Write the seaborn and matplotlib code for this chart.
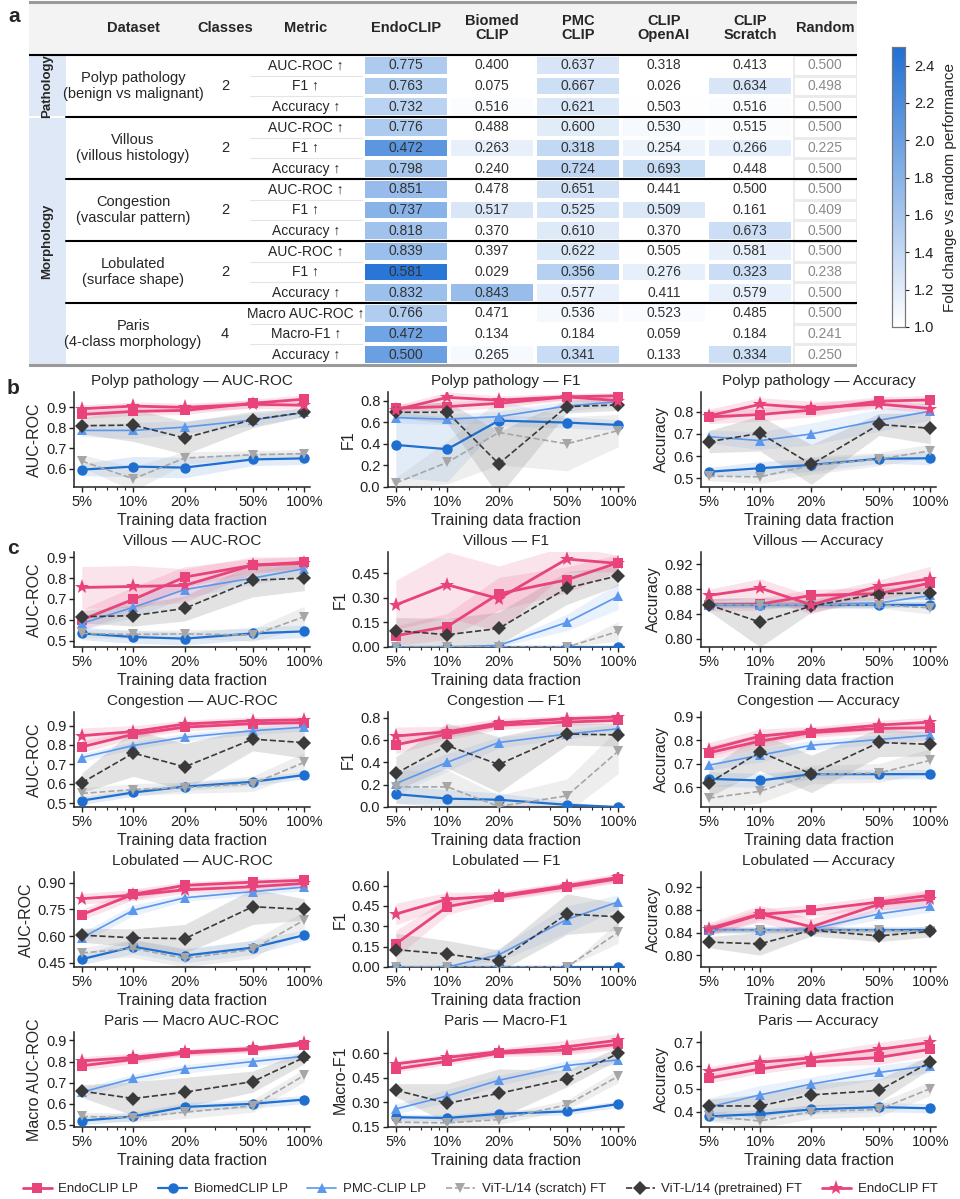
import matplotlib
matplotlib.use("Agg")
import matplotlib.pyplot as plt
from matplotlib.colors import LinearSegmentedColormap
from matplotlib.patches import Rectangle
from matplotlib.lines import Line2D
from matplotlib.ticker import NullFormatter, FormatStrFormatter
import numpy as np
import pandas as pd
import seaborn as sns

W, H = 960, 1199

# ---------------- panel a: table ----------------
models = ["EndoCLIP", "Biomed\nCLIP", "PMC\nCLIP", "CLIP\nOpenAI", "CLIP\nScratch"]
datasets = ["Polyp pathology\n(benign vs malignant)", "Villous\n(villous histology)",
            "Congestion\n(vascular pattern)", "Lobulated\n(surface shape)",
            "Paris\n(4-class morphology)"]
n_classes = [2, 2, 2, 2, 4]
metrics = ["AUC-ROC ↑", "F1 ↑", "Accuracy ↑"] * 4 + ["Macro AUC-ROC ↑", "Macro-F1 ↑", "Accuracy ↑"]
scores = [
    [0.775, 0.400, 0.637, 0.318, 0.413],
    [0.763, 0.075, 0.667, 0.026, 0.634],
    [0.732, 0.516, 0.621, 0.503, 0.516],
    [0.776, 0.488, 0.600, 0.530, 0.515],
    [0.472, 0.263, 0.318, 0.254, 0.266],
    [0.798, 0.240, 0.724, 0.693, 0.448],
    [0.851, 0.478, 0.651, 0.441, 0.500],
    [0.737, 0.517, 0.525, 0.509, 0.161],
    [0.818, 0.370, 0.610, 0.370, 0.673],
    [0.839, 0.397, 0.622, 0.505, 0.581],
    [0.581, 0.029, 0.356, 0.276, 0.323],
    [0.832, 0.843, 0.577, 0.411, 0.579],
    [0.766, 0.471, 0.536, 0.523, 0.485],
    [0.472, 0.134, 0.184, 0.059, 0.184],
    [0.500, 0.265, 0.341, 0.133, 0.334],
]
random_score = [0.500, 0.498, 0.500, 0.500, 0.225, 0.500, 0.500, 0.409, 0.500,
                0.500, 0.238, 0.500, 0.500, 0.241, 0.250]

# ---------------- panels b, c: data-fraction curves ----------------
fracs = [5, 10, 20, 50, 100]
frac_labels = ["5%", "10%", "20%", "50%", "100%"]
titles = ["Polyp pathology — AUC-ROC", "Polyp pathology — F1", "Polyp pathology — Accuracy",
          "Villous — AUC-ROC", "Villous — F1", "Villous — Accuracy",
          "Congestion — AUC-ROC", "Congestion — F1", "Congestion — Accuracy",
          "Lobulated — AUC-ROC", "Lobulated — F1", "Lobulated — Accuracy",
          "Paris — Macro AUC-ROC", "Paris — Macro-F1", "Paris — Accuracy"]
ylabels = ["AUC-ROC", "F1", "Accuracy"] * 4 + ["Macro AUC-ROC", "Macro-F1", "Accuracy"]
ylims = [(0.51, 0.975), (0.0, 0.88), (0.46, 0.89),
         (0.47, 0.925), (0.0, 0.58), (0.787, 0.94),
         (0.48, 0.97), (0.0, 0.85), (0.515, 0.92),
         (0.426, 0.96), (0.0, 0.70), (0.779, 0.947),
         (0.49, 0.94), (0.15, 0.73), (0.334, 0.745)]
yticks = [[0.6, 0.7, 0.8, 0.9], [0.0, 0.2, 0.4, 0.6, 0.8], [0.5, 0.6, 0.7, 0.8],
          [0.5, 0.6, 0.7, 0.8, 0.9], [0.0, 0.15, 0.30, 0.45], [0.80, 0.84, 0.88, 0.92],
          [0.5, 0.6, 0.7, 0.8, 0.9], [0.0, 0.2, 0.4, 0.6, 0.8], [0.6, 0.7, 0.8, 0.9],
          [0.45, 0.60, 0.75, 0.90], [0.0, 0.15, 0.30, 0.45, 0.60], [0.80, 0.84, 0.88, 0.92],
          [0.5, 0.6, 0.7, 0.8, 0.9], [0.15, 0.30, 0.45, 0.60], [0.4, 0.5, 0.6, 0.7]]

endo_lp = [
    [0.865, 0.880, 0.885, 0.920, 0.940], [0.730, 0.745, 0.775, 0.835, 0.845], [0.777, 0.788, 0.808, 0.849, 0.854],
    [0.600, 0.698, 0.805, 0.862, 0.876], [0.069, 0.125, 0.325, 0.410, 0.515], [0.855, 0.856, 0.870, 0.873, 0.890],
    [0.790, 0.855, 0.892, 0.910, 0.915], [0.556, 0.653, 0.732, 0.760, 0.775], [0.746, 0.796, 0.832, 0.850, 0.853],
    [0.720, 0.835, 0.885, 0.903, 0.914], [0.170, 0.445, 0.515, 0.590, 0.650], [0.844, 0.872, 0.879, 0.894, 0.906],
    [0.780, 0.810, 0.840, 0.857, 0.880], [0.505, 0.550, 0.600, 0.620, 0.655], [0.545, 0.585, 0.615, 0.635, 0.670],
]
endo_lp_sd = [
    [.02, .02, .02, .02, .02], [.04, .04, .04, .03, .03], [.03, .03, .03, .02, .02],
    [.05, .06, .05, .03, .03], [.06, .08, .10, .08, .05], [.01, .01, .01, .01, .01],
    [.03, .02, .02, .02, .02], [.08, .05, .04, .03, .03], [.03, .03, .02, .02, .02],
    [.03, .03, .02, .02, .02], [.10, .06, .03, .03, .03], [.01, .01, .01, .01, .01],
    [.02, .02, .015, .015, .01], [.02, .02, .02, .03, .03], [.02, .02, .02, .03, .03],
]
biomed_lp = [
    [0.595, 0.610, 0.605, 0.645, 0.650], [0.390, 0.350, 0.615, 0.597, 0.575], [0.529, 0.545, 0.560, 0.588, 0.590],
    [0.535, 0.518, 0.510, 0.535, 0.545], [0.0, 0.0, 0.0, 0.0, 0.0], [0.855, 0.855, 0.855, 0.855, 0.855],
    [0.513, 0.555, 0.585, 0.610, 0.645], [0.115, 0.075, 0.065, 0.020, 0.0], [0.635, 0.628, 0.655, 0.655, 0.655],
    [0.470, 0.540, 0.490, 0.535, 0.605], [0.0, 0.0, 0.0, 0.0, 0.0], [0.844, 0.844, 0.844, 0.844, 0.844],
    [0.520, 0.540, 0.585, 0.600, 0.620], [0.210, 0.205, 0.230, 0.245, 0.290], [0.380, 0.390, 0.410, 0.420, 0.415],
]
biomed_lp_sd = [
    [.03, .05, .05, .03, .03], [.30, .30, .05, .05, .05], [.02, .03, .03, .02, .03],
    [.03, .03, .03, .03, .03], [0, 0, 0, 0, 0], [.005, .005, .005, .005, .005],
    [.02, .02, .02, .02, .02], [.08, .08, .06, .03, 0], [.03, .03, .02, .02, .02],
    [.03, .04, .04, .04, .03], [0, 0, 0, 0, 0], [.005, .005, .005, .005, .005],
    [.02, .02, .02, .02, .02], [.02, .02, .02, .02, .02], [.02, .02, .02, .02, .02],
]
pmc_lp = [
    [0.787, 0.787, 0.803, 0.838, 0.875], [0.643, 0.628, 0.652, 0.750, 0.790], [0.688, 0.670, 0.700, 0.762, 0.803],
    [0.583, 0.660, 0.745, 0.800, 0.845], [0.0, 0.0, 0.010, 0.150, 0.310], [0.855, 0.855, 0.855, 0.858, 0.870],
    [0.735, 0.797, 0.840, 0.873, 0.892], [0.210, 0.400, 0.577, 0.653, 0.700], [0.693, 0.736, 0.778, 0.803, 0.821],
    [0.590, 0.745, 0.815, 0.850, 0.875], [0.0, 0.0, 0.090, 0.350, 0.480], [0.844, 0.844, 0.846, 0.873, 0.886],
    [0.655, 0.720, 0.765, 0.800, 0.825], [0.260, 0.340, 0.435, 0.525, 0.560], [0.420, 0.473, 0.520, 0.570, 0.600],
]
pmc_lp_sd = [
    [.03, .04, .03, .03, .02], [.05, .05, .05, .05, .04], [.03, .04, .05, .05, .04],
    [.03, .05, .04, .03, .03], [0, 0, .01, .05, .08], [.005, .005, .005, .01, .01],
    [.02, .02, .02, .02, .02], [.10, .08, .05, .04, .04], [.02, .03, .02, .02, .02],
    [.03, .03, .02, .02, .02], [0, 0, .05, .10, .05], [.005, .005, .005, .01, .01],
    [.02, .02, .02, .02, .02], [.03, .04, .03, .03, .03], [.04, .04, .03, .03, .03],
]
vit_scratch = [
    [0.637, 0.550, 0.652, 0.668, 0.673], [0.037, 0.228, 0.505, 0.400, 0.523], [0.509, 0.506, 0.558, 0.586, 0.624],
    [0.535, 0.530, 0.533, 0.527, 0.615], [0.0, 0.0, 0.0, 0.0, 0.095], [0.855, 0.855, 0.855, 0.855, 0.850],
    [0.550, 0.570, 0.580, 0.600, 0.710], [0.180, 0.180, 0.005, 0.100, 0.500], [0.553, 0.582, 0.654, 0.660, 0.714],
    [0.505, 0.530, 0.475, 0.525, 0.690], [0.0, 0.0, 0.0, 0.0, 0.255], [0.844, 0.844, 0.844, 0.844, 0.842],
    [0.540, 0.535, 0.560, 0.590, 0.735], [0.180, 0.175, 0.195, 0.285, 0.460], [0.380, 0.360, 0.400, 0.410, 0.500],
]
vit_scratch_sd = [
    [.03, .06, .03, .02, .02], [.05, .20, .30, .25, .15], [.02, .03, .04, .03, .03],
    [.02, .02, .02, .03, .05], [0, 0, 0, 0, .06], [.005, .005, .005, .005, .01],
    [.03, .03, .03, .04, .05], [.15, .15, .10, .15, .20], [.05, .05, .04, .04, .05],
    [.03, .05, .05, .05, .05], [0, 0, 0, 0, .08], [.005, .005, .005, .005, .005],
    [.02, .02, .03, .03, .03], [.03, .03, .03, .03, .04], [.02, .03, .03, .03, .03],
]
vit_pre = [
    [0.810, 0.813, 0.750, 0.840, 0.875], [0.692, 0.692, 0.215, 0.745, 0.760], [0.665, 0.703, 0.562, 0.743, 0.726],
    [0.615, 0.620, 0.655, 0.790, 0.800], [0.100, 0.075, 0.113, 0.360, 0.435], [0.855, 0.827, 0.853, 0.873, 0.874],
    [0.605, 0.758, 0.687, 0.830, 0.812], [0.300, 0.550, 0.380, 0.653, 0.645], [0.617, 0.750, 0.656, 0.790, 0.782],
    [0.605, 0.590, 0.585, 0.765, 0.750], [0.128, 0.095, 0.045, 0.390, 0.370], [0.823, 0.820, 0.844, 0.834, 0.842],
    [0.660, 0.625, 0.655, 0.705, 0.820], [0.375, 0.295, 0.355, 0.445, 0.600], [0.425, 0.425, 0.473, 0.492, 0.615],
]
vit_pre_sd = [
    [.04, .08, .08, .04, .02], [.05, .10, .30, .06, .05], [.05, .08, .09, .05, .07],
    [.03, .05, .06, .08, .06], [.08, .10, .10, .10, .06], [.01, .04, .01, .01, .01],
    [.05, .12, .12, .06, .08], [.15, .20, .25, .10, .10], [.06, .08, .08, .06, .05],
    [.04, .05, .08, .10, .06], [.12, .10, .08, .15, .10], [.01, .02, .01, .01, .01],
    [.03, .08, .07, .05, .03], [.04, .12, .15, .05, .04], [.03, .05, .05, .05, .03],
]
endo_ft = [
    [0.893, 0.906, 0.900, 0.915, 0.910], [0.715, 0.830, 0.805, 0.835, 0.800], [0.782, 0.834, 0.818, 0.835, 0.815],
    [0.755, 0.760, 0.765, 0.862, 0.870], [0.257, 0.380, 0.295, 0.537, 0.510], [0.870, 0.882, 0.855, 0.885, 0.897],
    [0.848, 0.869, 0.908, 0.925, 0.930], [0.635, 0.673, 0.752, 0.790, 0.805], [0.760, 0.817, 0.838, 0.864, 0.877],
    [0.810, 0.830, 0.860, 0.877, 0.896], [0.390, 0.500, 0.525, 0.600, 0.660], [0.847, 0.873, 0.850, 0.890, 0.899],
    [0.803, 0.820, 0.845, 0.862, 0.890], [0.535, 0.575, 0.610, 0.640, 0.680], [0.575, 0.614, 0.633, 0.670, 0.700],
]
endo_ft_sd = [
    [.02, .02, .02, .02, .02], [.04, .05, .04, .03, .03], [.03, .03, .03, .02, .02],
    [.10, .10, .08, .04, .03], [.15, .20, .20, .08, .05], [.01, .015, .015, .01, .02],
    [.04, .03, .02, .02, .02], [.08, .05, .04, .03, .03], [.03, .03, .02, .02, .02],
    [.03, .03, .02, .02, .02], [.08, .05, .03, .03, .03], [.01, .015, .015, .01, .015],
    [.02, .02, .015, .015, .01], [.02, .02, .02, .04, .04], [.02, .02, .02, .03, .03],
]

PINK, BLUE, LBLUE, LGRAY, DGRAY = "#E8437B", "#1F6FD1", "#5B97EC", "#A6A6A6", "#3A3A3A"
series = [
    ("EndoCLIP LP", endo_lp, endo_lp_sd, PINK, PINK, 0.15, dict(marker="s", ls="-", lw=2.0, ms=7)),
    ("BiomedCLIP LP", biomed_lp, biomed_lp_sd, BLUE, BLUE, 0.13, dict(marker="o", ls="-", lw=1.6, ms=7.5)),
    ("PMC-CLIP LP", pmc_lp, pmc_lp_sd, LBLUE, LBLUE, 0.13, dict(marker="^", ls="-", lw=1.2, ms=7.5)),
    ("ViT-L/14 (scratch) FT", vit_scratch, vit_scratch_sd, LGRAY, "#BDBDBD", 0.25, dict(marker="v", ls="--", lw=1.2, ms=7.5)),
    ("ViT-L/14 (pretrained) FT", vit_pre, vit_pre_sd, DGRAY, "#9A9A9A", 0.28, dict(marker="D", ls="--", lw=1.2, ms=7)),
    ("EndoCLIP FT", endo_ft, endo_ft_sd, PINK, PINK, 0.15, dict(marker="*", ls="-", lw=2.0, ms=11)),
]

sns.set_theme(style="ticks")
plt.rcParams["font.family"] = ["Liberation Sans", "DejaVu Sans"]
plt.rcParams["axes.edgecolor"] = "#222222"
plt.rcParams["xtick.color"] = "#222222"
plt.rcParams["ytick.color"] = "#222222"


def box(x0, y0, x1, y1):
    return [x0 / W, 1 - y1 / H, (x1 - x0) / W, (y1 - y0) / H]


fig = plt.figure(figsize=(W / 100, H / 100), dpi=100)

# heatmap of fold change vs random
scores_arr = np.array(scores)
rand_arr = np.array(random_score)
fold = scores_arr / rand_arr[:, None]
cmap = LinearSegmentedColormap.from_list("fold", ["#FFFFFF", "#2070D4"])
hax = fig.add_axes(box(363, 55, 793, 365))
cax = fig.add_axes(box(892, 47, 905, 327))
sns.heatmap(pd.DataFrame(fold), ax=hax, cmap=cmap, vmin=1.0, vmax=2.5,
            annot=np.array([[f"{v:.3f}" for v in r] for r in scores]), fmt="",
            annot_kws={"fontsize": 10, "color": "#333333"},
            linewidths=1.5, linecolor="white", cbar_ax=cax,
            cbar_kws={"ticks": [1.0, 1.2, 1.4, 1.6, 1.8, 2.0, 2.2, 2.4]},
            xticklabels=False, yticklabels=False)
cax.set_ylabel("Fold change vs random performance", fontsize=11, labelpad=6)
cax.tick_params(labelsize=10.5, length=3, width=0.8)
cax.yaxis.set_major_formatter(FormatStrFormatter("%.1f"))
for sp in cax.spines.values():
    sp.set_visible(True)
    sp.set_color("#777777")
    sp.set_linewidth(0.8)

rax = fig.add_axes(box(793, 55, 857, 365))
sns.heatmap(pd.DataFrame(np.ones((15, 1))), ax=rax, cmap=cmap, vmin=1.0, vmax=2.5,
            annot=np.array([[f"{v:.3f}"] for v in random_score]), fmt="",
            annot_kws={"fontsize": 10, "color": "#8A8A8A"},
            linewidths=1.0, linecolor="#EBEBEB", cbar=False,
            xticklabels=False, yticklabels=False)

# table frame / labels on top
tab = fig.add_axes(box(29, 0, 857, 368), zorder=5)
tab.set_xlim(29, 857)
tab.set_ylim(368, 0)
tab.axis("off")
tab.patch.set_alpha(0)
row0, rowh = 55, (365 - 55) / 15
tab.add_patch(Rectangle((29, 2), 828, 53, fc="#F3F3F3", ec="none", zorder=0))
tab.add_patch(Rectangle((29, 55), 37, 310, fc="#DFE8F6", ec="none", zorder=0))
tab.plot([29, 66], [117, 117], color="white", lw=1.5)
tab.text(47, 86, "Pathology", rotation=90, ha="center", va="center", fontsize=9.5, fontweight="bold")
tab.text(47, 241, "Morphology", rotation=90, ha="center", va="center", fontsize=9.5, fontweight="bold")

hdr_x = [133, 225, 306]
for x, t in zip(hdr_x, ["Dataset", "Classes", "Metric"]):
    tab.text(x, 28, t, ha="center", va="center", fontsize=10.5, fontweight="bold")
col_edges = [363, 449, 535, 621, 707, 793, 857]
for i, t in enumerate(models + ["Random"]):
    tab.text((col_edges[i] + col_edges[i + 1]) / 2, 28, t, ha="center", va="center",
             fontsize=10.5, fontweight="bold", linespacing=1.0)

for d in range(5):
    yc = row0 + (3 * d + 1.5) * rowh
    tab.text(133, yc, datasets[d], ha="center", va="center", fontsize=10.5, linespacing=1.1)
    tab.text(225, yc, str(n_classes[d]), ha="center", va="center", fontsize=10.5)
for r, m in enumerate(metrics):
    tab.text(306, row0 + (r + 0.5) * rowh, m, ha="center", va="center", fontsize=10)
    if r % 3 != 0:
        tab.plot([250, 362], [row0 + r * rowh] * 2, color="#E4E4E4", lw=0.8)

tab.plot([29, 857], [2, 2], color="#9A9A9A", lw=2.2)
tab.plot([29, 857], [365, 365], color="#9A9A9A", lw=2.2)
tab.plot([29, 857], [55, 55], color="black", lw=1.5)
for d in range(1, 5):
    tab.plot([66, 857], [row0 + 3 * d * rowh] * 2, color="black", lw=1.5)

fig.text(8 / W, 1 - 17 / H, "a", fontsize=15, fontweight="bold", va="center")
fig.text(7 / W, 1 - 388 / H, "b", fontsize=15, fontweight="bold", va="center")
fig.text(7 / W, 1 - 548 / H, "c", fontsize=15, fontweight="bold", va="center")

# curve panels
col_x = [(74, 310), (388, 624), (701, 936)]
row_bottom = [487, 647, 807, 967, 1127]
for k in range(15):
    r, c = divmod(k, 3)
    x0, x1 = col_x[c]
    ax = fig.add_axes(box(x0, row_bottom[r] - 95, x1, row_bottom[r]))
    for name, vals, sds, col, bcol, alpha, st in series:
        m = np.array(vals[k])
        s = np.array(sds[k])
        ax.fill_between(fracs, m - s, m + s, color=bcol, alpha=alpha, lw=0, zorder=1)
        sns.lineplot(x=fracs, y=m, ax=ax, color=col, marker=st["marker"], linestyle=st["ls"],
                     linewidth=st["lw"], markersize=st["ms"], markeredgewidth=0, zorder=3)
    ax.set_xscale("log")
    ax.set_xlim(4.5, 108)
    ax.set_xticks(fracs)
    ax.set_xticklabels(frac_labels)
    ax.xaxis.set_minor_formatter(NullFormatter())
    ax.set_ylim(*ylims[k])
    ax.set_yticks(yticks[k])
    ax.set_title(titles[k], fontsize=11, pad=5)
    ax.set_ylabel(ylabels[k], fontsize=11.5, labelpad=3)
    ax.set_xlabel("Training data fraction", fontsize=11.5, labelpad=3)
    ax.tick_params(axis="both", which="major", labelsize=10.5, length=3.5, width=1, pad=2)
    ax.tick_params(axis="x", which="minor", length=2, width=0.8)
    for sp in ["left", "bottom"]:
        ax.spines[sp].set_linewidth(1.1)
    sns.despine(ax=ax)

handles = [Line2D([], [], color=col, marker=st["marker"], linestyle=st["ls"], lw=st["lw"],
                  markersize=st["ms"], markeredgewidth=0)
           for name, vals, sds, col, bcol, alpha, st in series]
fig.legend(handles, [s[0] for s in series], loc="center", bbox_to_anchor=(0.5, 1 - 1189 / H),
           ncol=6, frameon=False, fontsize=9.5, handlelength=2.2, columnspacing=1.5,
           handletextpad=0.5, borderpad=0.1)

fig.savefig("out.png", dpi=100)
